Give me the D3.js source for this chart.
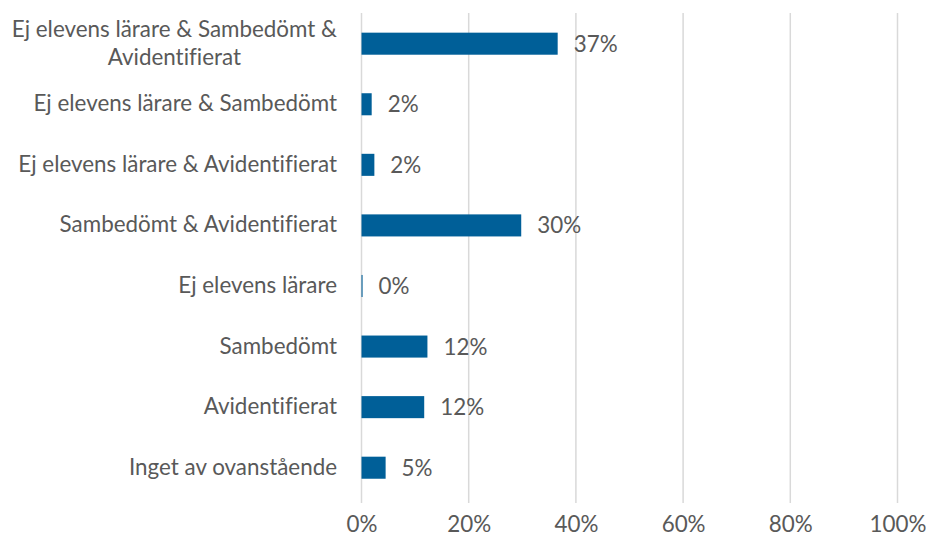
<!DOCTYPE html>
<html>
<head>
<meta charset="utf-8">
<script src="https://cdn.jsdelivr.net/npm/d3@7"></script>
<style>
  body { margin: 0; background: #fff; }
  text { font-family: Lato, "Open Sans", sans-serif; fill: #595959; font-variant-ligatures: none; }
</style>
</head>
<body>
<div id="chart"></div>
<script>
// categories top to bottom, values in percent
var categories = [
  "Ej elevens lärare & Sambedömt & Avidentifierat",
  "Ej elevens lärare & Sambedömt",
  "Ej elevens lärare & Avidentifierat",
  "Sambedömt & Avidentifierat",
  "Ej elevens lärare",
  "Sambedömt",
  "Avidentifierat",
  "Inget av ovanstående"
]
var values = [36.6, 1.9, 2.4, 29.8, 0.2, 12.3, 11.7, 4.5]
var valueLabels = ["37%", "2%", "2%", "30%", "0%", "12%", "12%", "5%"]
var ticks = [0, 20, 40, 60, 80, 100]
// wrapped lines for long labels
var labelLines = {
  "Ej elevens lärare & Sambedömt & Avidentifierat": ["Ej elevens lärare & Sambedömt &", "Avidentifierat"]
}

var data = categories.map(function (c, i) {
  return { name: c, value: values[i], label: valueLabels[i] };
});

var W = 926, H = 538;
var fs = 22.4;

var svg = d3.select("#chart").append("svg")
  .attr("width", W)
  .attr("height", H);

var x = d3.scaleLinear().domain([0, 100]).range([361.5, 897.5]);
var y = d3.scaleBand()
  .domain(categories)
  .range([13.4, 498])
  .paddingInner(0.636)
  .paddingOuter(0.318);

// gridlines
svg.append("g").selectAll("line")
  .data(ticks)
  .enter().append("line")
  .attr("x1", function (d) { return x(d); })
  .attr("x2", function (d) { return x(d); })
  .attr("y1", 13)
  .attr("y2", 503)
  .attr("stroke", "#d9d9d9")
  .attr("stroke-width", 1.5);

// x axis labels
var xaxis = svg.append("g")
  .call(d3.axisBottom(x).tickValues(ticks).tickSize(0).tickPadding(0)
    .tickFormat(function (d) { return d + "%"; }));
xaxis.select(".domain").remove();
xaxis.selectAll("text")
  .attr("y", 532)
  .attr("dy", 0)
  .style("font-size", fs + "px")
  .attr("fill", "#595959")
  .style("font-family", "Lato, sans-serif");

// bars
svg.append("g").selectAll("rect")
  .data(data)
  .enter().append("rect")
  .attr("x", x(0))
  .attr("y", function (d) { return y(d.name); })
  .attr("width", function (d) { return x(d.value) - x(0); })
  .attr("height", y.bandwidth())
  .attr("fill", "#005f98");

// value labels
svg.append("g").selectAll("text")
  .data(data)
  .enter().append("text")
  .attr("x", function (d) { return x(d.value) + 16; })
  .attr("y", function (d) { return y(d.name) + y.bandwidth() / 2; })
  .attr("dy", "0.36em")
  .style("font-size", fs + "px")
  .text(function (d) { return d.label; });

// category labels
var catG = svg.append("g").selectAll("g")
  .data(data)
  .enter().append("g");

catG.each(function (d) {
  var g = d3.select(this);
  var lines = labelLines[d.name] || [d.name];
  var cy = y(d.name) + y.bandwidth() / 2 - 1;
  var lh = 28;
  var t = g.append("text")
    .style("font-size", fs + "px")
    .attr("text-anchor", "middle");
  lines.forEach(function (l, i) {
    t.append("tspan")
      .attr("x", 0)
      .attr("y", cy + (i - (lines.length - 1) / 2) * lh)
      .attr("dy", "0.36em")
      .text(l);
  });
  // right-align the block at 337, lines centered within
  var w = t.node().getBBox().width;
  t.attr("transform", "translate(" + (337 - w / 2) + ",0)");
});
</script>
</body>
</html>
